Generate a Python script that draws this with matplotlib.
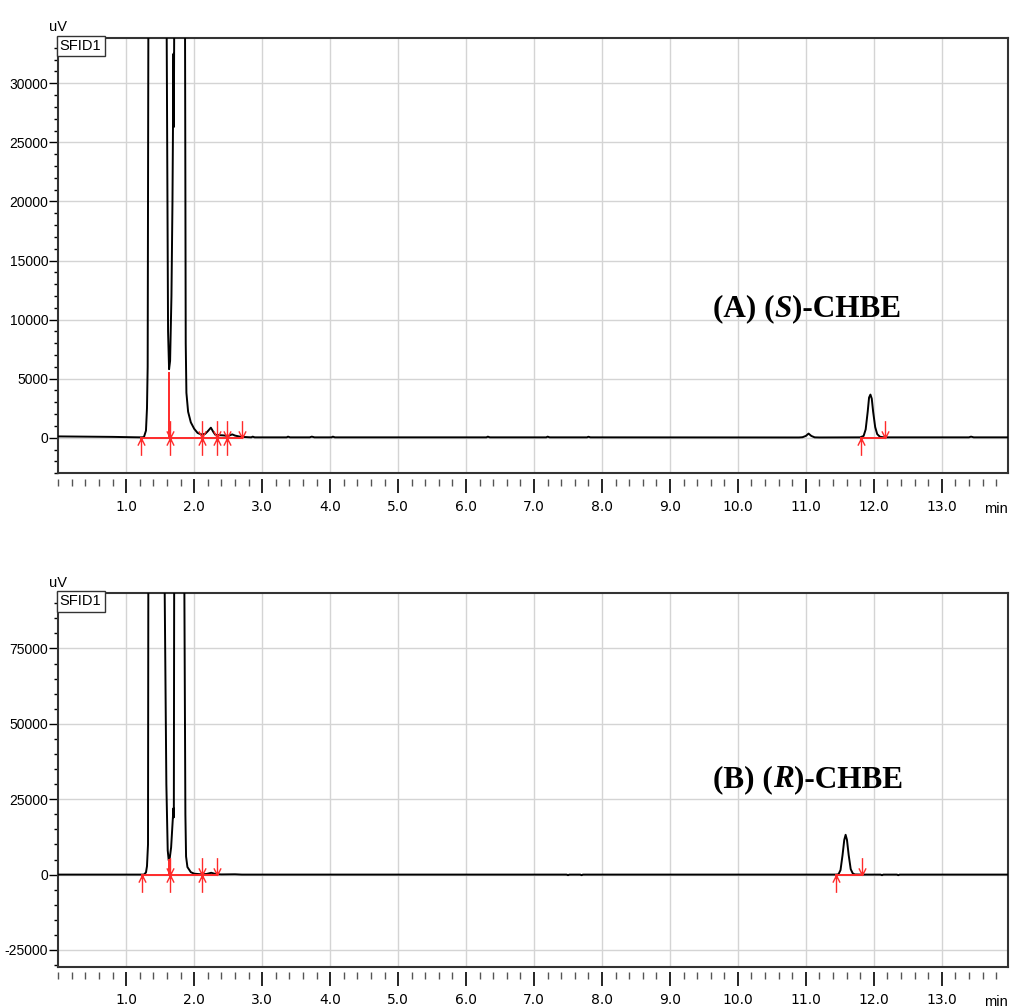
import matplotlib.pyplot as plt
from matplotlib import font_manager
from matplotlib.path import Path
from matplotlib.ticker import MultipleLocator

# ---- chromatogramme (A) (S)-CHBE ----
time_a = [0.00, 0.40, 0.80, 1.10, 1.22, 1.26, 1.29, 1.305, 1.315, 1.325, 1.45,
          1.595, 1.615, 1.630, 1.645, 1.665, 1.680, 1.695, 1.700, 1.705, 1.78,
          1.865, 1.875, 1.885, 1.91, 1.95, 2.00, 2.05, 2.10, 2.16, 2.20, 2.245,
          2.28, 2.31, 2.36, 2.42, 2.50, 2.56, 2.60, 2.68, 2.80,
          2.84, 2.86, 2.89, 3.36, 3.38, 3.41, 3.70, 3.73, 3.77, 4.02, 4.04, 4.07,
          6.30, 6.32, 6.35, 7.18, 7.20, 7.23, 7.78, 7.80, 7.83,
          10.90, 10.95, 11.00, 11.04, 11.08, 11.13, 11.20, 11.80, 11.85,
          11.88, 11.91, 11.93, 11.95, 11.97, 11.99, 12.02, 12.05, 12.09, 12.15,
          13.40, 13.43, 13.47, 13.97]
signal_a = [110, 90, 70, 40, 30, 50, 600, 2500, 6000, 34000, 900000,
            34000, 9000, 5800, 6500, 12000, 20000, 32500, 26300, 34000, 900000,
            34000, 8000, 3800, 2200, 1300, 750, 400, 280, 320, 550, 850,
            500, 250, 220, 200, 150, 280, 180, 80, 40,
            30, 90, 30, 30, 90, 30, 30, 90, 30, 30, 90, 30,
            30, 90, 30, 30, 90, 30, 30, 80, 30,
            20, 40, 150, 350, 150, 30, 20, 30, 150,
            700, 2200, 3400, 3650, 3300, 2200, 900, 300, 80, 30,
            30, 90, 30, 30]
up_a = [1.22, 11.81]
both_a = [1.64, 2.12, 2.34, 2.48]
down_a = [2.70, 12.17]
base_start_a = [1.22, 11.81]
base_end_a = [2.70, 12.17]
drop_a = [1.635, 5500]

# ---- chromatogramme (B) (R)-CHBE ----
time_b = [0.00, 0.60, 1.20, 1.26, 1.29, 1.305, 1.32, 1.325, 1.45,
          1.565, 1.59, 1.61, 1.625, 1.64, 1.66, 1.685, 1.695, 1.700, 1.705, 1.78,
          1.855, 1.87, 1.88, 1.90, 1.95, 2.00, 2.10, 2.18, 2.25, 2.32, 2.40,
          2.60, 2.70, 7.48, 7.50, 7.52, 7.68, 7.70, 7.72, 11.44, 11.48, 11.51,
          11.54, 11.565, 11.585, 11.605, 11.63, 11.66, 11.69, 11.72, 11.83,
          12.10, 12.12, 12.14, 12.34, 12.36, 12.38, 13.97]
signal_b = [0, 0, 0, 0, 700, 2800, 10000, 100000, 2000000,
            95000, 30000, 8000, 4700, 5500, 9000, 18500, 22000, 19000, 95000, 2000000,
            95000, 20000, 6000, 2500, 800, 300, 100, 200, 600, 150, 50,
            100, 0, 0, -200, 0, 0, -200, 0, 0, 100, 1500,
            6500, 11500, 13200, 11500, 6500, 1800, 400, 50, 0,
            0, -200, 0, 0, -200, 0, 0]
up_b = [1.23, 11.44]
both_b = [1.64, 2.12]
down_b = [2.34, 11.83]
base_start_b = [1.23, 11.44]
base_end_b = [2.34, 11.83]
drop_b = [1.635, 4700]

names = {f.name for f in font_manager.fontManager.ttflist}
sans = "Liberation Sans Narrow" if "Liberation Sans Narrow" in names else "Liberation Sans"
tick_fs = 11.5 if sans == "Liberation Sans Narrow" else 10

red = "#ff2a2a"
M, L = Path.MOVETO, Path.LINETO
# marqueurs d'intégration (flèches rouges)
up_path = Path([(0, -17), (0, 0), (-3.5, -7), (0, 0), (3.5, -7)], [M, L, M, L, L])
down_path = Path([(0, 17), (0, 0), (-3.5, 7), (0, 0), (3.5, 7)], [M, L, M, L, L])
both_path = Path([(0, -17), (0, 17), (-3.5, -7), (0, 0), (3.5, -7),
                  (-3.5, 7), (0, 0), (3.5, 7)], [M, L, M, L, L, M, L, L])


def draw_panel(ax, t, s, ylim, major, minor, ups, boths, downs, b0, b1, drop, label, italic):
    ax.plot(t, s, color="black", lw=1.4, zorder=3)
    for x0, x1 in zip(b0, b1):
        ax.plot([x0, x1], [0, 0], color=red, lw=1.4, zorder=4)
    ax.plot([drop[0], drop[0]], [0, drop[1]], color=red, lw=1.4, zorder=4)
    for xs, p in ((ups, up_path), (boths, both_path), (downs, down_path)):
        ax.plot(xs, [0] * len(xs), ls="none", marker=p, ms=25, mfc="none",
                mec=red, mew=1.0, zorder=5)

    ax.set_xlim(0, 13.97)
    ax.set_ylim(*ylim)
    ax.xaxis.set_major_locator(MultipleLocator(1.0))
    ax.xaxis.set_minor_locator(MultipleLocator(0.2))
    ax.yaxis.set_major_locator(MultipleLocator(major))
    ax.yaxis.set_minor_locator(MultipleLocator(minor))
    ax.set_xticks(range(1, 14))
    ax.set_xticklabels([f"{v:.1f}" for v in range(1, 14)], fontfamily=sans, fontsize=tick_fs)
    yt = [v for v in ax.get_yticks() if ylim[0] <= v <= ylim[1]]
    ax.set_yticks(yt)
    ax.set_yticklabels([f"{int(v)}" for v in yt], fontfamily=sans, fontsize=tick_fs)
    ax.grid(True, which="major", color="#d4d4d4", lw=1.0, zorder=0)
    ax.tick_params(axis="x", which="major", direction="out", length=10, width=1.2, pad=5.0)
    ax.tick_params(axis="x", which="minor", direction="out", length=5, width=1.0, color="#555555")
    ax.tick_params(axis="y", which="major", direction="out", length=6.5, width=1.0, pad=0.8)
    ax.tick_params(axis="y", which="minor", direction="out", length=2.6, width=1.0)

    for sp in ax.spines.values():
        sp.set_color("#333333")
        sp.set_linewidth(1.5)
    ax.spines["bottom"].set_position(("outward", 4))
    ax.spines["bottom"].set_visible(False)
    ax.plot([0, 1], [0, 0], transform=ax.transAxes, color="#333333", lw=1.5,
            clip_on=False, zorder=6)

    ax.annotate("min", xy=(0.988, 0), xycoords="axes fraction", xytext=(0, -25.5),
                textcoords="offset points", ha="center", va="center",
                fontfamily=sans, fontsize=tick_fs + 0.5)
    ax.annotate("uV", xy=(0, 1), xycoords="axes fraction", xytext=(0, 2.5),
                textcoords="offset points", ha="center", va="bottom",
                fontfamily=sans, fontsize=tick_fs + 0.5)
    ax.text(0.0015, 0.997, "SFID1", transform=ax.transAxes, ha="left", va="top",
            fontfamily=sans, fontsize=tick_fs + 0.5, zorder=7,
            bbox=dict(boxstyle="square,pad=0.22", fc="white", ec="#333333", lw=1.0))

    # titre en gras, lettre de configuration en italique
    t1 = ax.text(label[0], label[1], label[2], transform=ax.transAxes, ha="left",
                 va="baseline", fontfamily="Liberation Serif", fontweight="bold", fontsize=22.5)
    t2 = ax.annotate(italic, xy=(1, 0), xycoords=t1, ha="left", va="bottom",
                     fontfamily="Liberation Serif", fontweight="bold", fontstyle="italic",
                     fontsize=22.5)
    ax.annotate(")-CHBE", xy=(1, 0), xycoords=t2, ha="left", va="bottom",
                fontfamily="Liberation Serif", fontweight="bold", fontsize=22.5)


fig = plt.figure(figsize=(10.14, 10.08), dpi=100)
ax1 = fig.add_axes([58.3 / 1014, 1 - 473.3 / 1008, 949.4 / 1014, 435.6 / 1008])
ax2 = fig.add_axes([58.3 / 1014, 1 - 966.7 / 1008, 949.4 / 1014, 373.4 / 1008])

draw_panel(ax1, time_a, signal_a, (-3013, 33860), 5000, 1000, up_a, both_a, down_a,
           base_start_a, base_end_a, drop_a, (0.6896, 0.3595, "(A) ("), "S")
draw_panel(ax2, time_b, signal_b, (-30550, 93300), 25000, 5000, up_b, both_b, down_b,
           base_start_b, base_end_b, drop_b, (0.6896, 0.482, "(B) ("), "R")

fig.savefig("out.png", dpi=100)
